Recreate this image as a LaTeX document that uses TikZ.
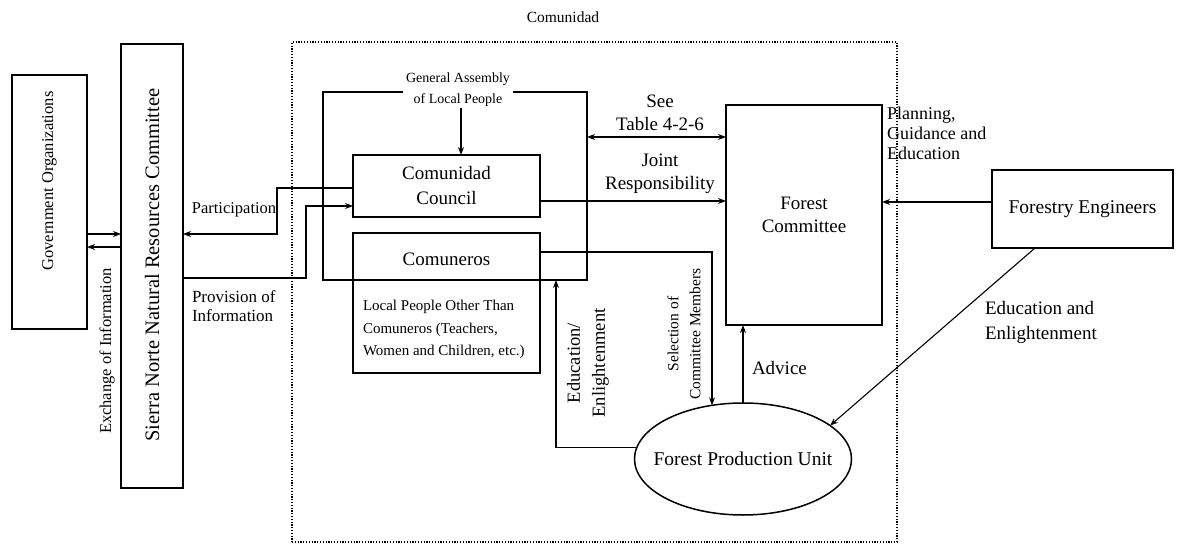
\documentclass[tikz,border=0pt]{standalone}
\usepackage{fontspec}
\setmainfont{Liberation Serif}
\usetikzlibrary{arrows.meta,shapes.geometric}
\newcommand{\myfs}[2]{\fontsize{#1}{#2}\selectfont}
\begin{document}
\begin{tikzpicture}[x=1pt,y=-1pt,
  box/.style={draw, line width=1.5pt, inner sep=0pt, outer sep=0pt},
  ln/.style={line width=1.1pt},
  arr/.style={line width=1.1pt, -{Stealth[length=8pt,width=6pt]}},
  darr/.style={line width=1.1pt, {Stealth[length=8pt,width=6pt]}-{Stealth[length=8pt,width=6pt]}},
  lbl/.style={inner sep=0pt, outer sep=0pt},
  big/.style={font=\myfs{19}{23}},
  mid/.style={font=\myfs{17}{19}},
  small/.style={font=\myfs{14}{21}}
]
\useasboundingbox (0,0) rectangle (1177,545);
% Comunidad dotted frame
\node[draw, line width=1.2pt, dash pattern=on 1.2pt off 1.6pt, inner sep=0pt, outer sep=0pt,
      minimum width=605, minimum height=500] (com) at (594.5,292) {};
\node[lbl, font=\myfs{15.5}{18}] (comt) at (563,17) {Comunidad};
% Government Organizations
\node[box, minimum width=75, minimum height=254] (gov) at (49.5,202) {};
\node[lbl, rotate=90, font=\myfs{16.5}{20}] (govt) at (49.5,181) {Government Organizations};
% Sierra Norte
\node[box, minimum width=62, minimum height=444] (sn) at (152,266) {};
\node[lbl, rotate=90, font=\myfs{20.5}{24}] (snt) at (152,265) {Sierra Norte Natural Resources Committee};
% General Assembly outer box
\node[box, line width=1.3pt, minimum width=264, minimum height=188] (ga) at (455,186) {};
\node[lbl, small, fill=white, inner xsep=3pt, inner ysep=1pt, align=center] (gat) at (458,90) {General Assembly\\of Local People};
% Comunidad Council
\node[box, minimum width=187, minimum height=62, fill=white] (cc) at (446.5,186) {};
\node[lbl, big, align=center, font=\myfs{19}{25}] (cct) at (cc.center) {Comunidad\\Council};
% Comuneros
\node[box, minimum width=187, minimum height=140] (cm) at (446.5,303) {};
\node[lbl, big] (cmt) at (446.5,259) {Comuneros};
\node[lbl, anchor=west, align=left, font=\myfs{15}{22.5}] (cmo) at (363,329.5) {Local People Other Than\\Comuneros (Teachers,\\Women and Children, etc.)};
% Forest Committee
\node[box, minimum width=156, minimum height=220] (fc) at (804,215) {};
\node[lbl, big, align=center] (fct) at (fc.center) {Forest\\Committee};
% Forest Production Unit
\node[draw, ellipse, line width=1.5pt, inner sep=0pt, outer sep=0pt, minimum width=217, minimum height=112] (fpu) at (743,459) {};
\node[lbl, font=\myfs{19.5}{23}] (fput) at (fpu.center) {Forest Production Unit};
% Forestry Engineers
\node[box, minimum width=181, minimum height=78] (fe) at (1082.5,209) {};
\node[lbl, font=\myfs{19.5}{23}] (fet) at (fe.center) {Forestry Engineers};

% connectors
\draw[arr] (gov.east |- 0,234) -- (sn.west |- 0,234);
\draw[arr] (sn.west |- 0,247) -- (gov.east |- 0,247);
\node[lbl, rotate=90, font=\myfs{16.5}{20}] (exch) at (107,351) {Exchange of Information};

\draw[arr] (cc.west |- 0,188) -- (277,188) -- (277,234) -- (sn.east |- 0,234);
\node[lbl, font=\myfs{16.5}{20}] (part) at (234,210) {Participation};
\draw[arr] (sn.east |- 0,278) -- (306,278) -- (306,206) -- (cc.west |- 0,206);
\node[lbl, anchor=west, align=left, mid] (prov) at (192,306) {Provision of\\Information};

\draw[arr] (gat.south -| 461,0) -- (cc.north -| 461,0);

\draw[darr] (ga.east |- 0,137) -- (fc.west |- 0,137);
\node[lbl, align=center, big] (see) at (660,113) {See\\Table 4-2-6};
\draw[arr] (cc.east |- 0,201) -- (fc.west |- 0,201);
\node[lbl, align=center, big] (joint) at (660,174) {Joint\\Responsibility};

\draw[arr] (cm.east |- 0,252) -| (fpu.120);
\node[lbl, rotate=90, align=center, font=\myfs{15.5}{22}] (sel) at (684,334) {Selection of\\Committee Members};

\draw[arr] (fpu.174) -| (ga.south -| 556,0);
\node[lbl, rotate=90, align=center, font=\myfs{18.5}{25}] (edu) at (588,363) {Education/\\Enlightenment};

\draw[arr] (fpu.north) -- (fc.south -| fpu.north);
\node[lbl, anchor=west, big] (adv) at (752,368) {Advice};

\draw[arr] (fe.west |- 0,202) -- (fc.east |- 0,202);
\node[lbl, anchor=west, align=left, font=\myfs{18}{20}] (plan) at (887,133) {Planning,\\Guidance and\\Education};

\draw[arr] (fe.south -| 1035,0) -- (fpu.21);
\node[lbl, anchor=west, align=left, font=\myfs{19}{25}] (edu2) at (985,322) {Education and\\Enlightenment};
\end{tikzpicture}
\end{document}
